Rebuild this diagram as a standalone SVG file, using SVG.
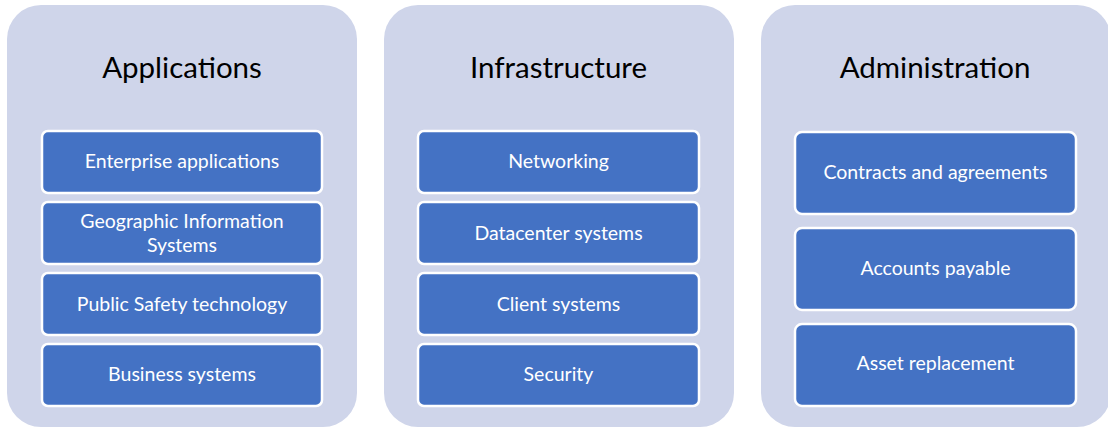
<svg xmlns="http://www.w3.org/2000/svg" width="1108" height="427" viewBox="0 0 1108 427">
<style>
.panel{fill:#CFD5EA;}
.box{fill:#4472C4;stroke:#FFFFFF;stroke-width:2.5;}
.title{font-family:Lato,"Liberation Sans",sans-serif;font-size:29.5px;fill:#000000;text-anchor:middle;}
.item{font-family:Lato,"Liberation Sans",sans-serif;font-size:19.5px;fill:#FFFFFF;text-anchor:middle;}
</style>
<rect width="1108" height="427" fill="#FFFFFF"/>
<g id="applications">
<rect class="panel" x="7" y="5" width="350" height="422" rx="34"/>
<text class="title" x="182" y="78">Applications</text>
<g id="enterprise-applications"><rect class="box" x="42" y="131" width="280" height="62" rx="6"/><text class="item" x="182" y="168">Enterprise applications</text></g>
<g id="gis"><rect class="box" x="42" y="202" width="280" height="62" rx="6"/><text class="item" x="182" y="228">Geographic Information</text><text class="item" x="182" y="252">Systems</text></g>
<g id="public-safety"><rect class="box" x="42" y="273" width="280" height="62" rx="6"/><text class="item" x="182" y="311">Public Safety technology</text></g>
<g id="business-systems"><rect class="box" x="42" y="344" width="280" height="62" rx="6"/><text class="item" x="182" y="381">Business systems</text></g>
</g>
<g id="infrastructure">
<rect class="panel" x="384" y="5" width="350" height="422" rx="34"/>
<text class="title" x="558.5" y="78">Infrastructure</text>
<g id="networking"><rect class="box" x="418" y="131" width="281" height="62" rx="6"/><text class="item" x="558.5" y="168">Networking</text></g>
<g id="datacenter-systems"><rect class="box" x="418" y="202" width="281" height="62" rx="6"/><text class="item" x="558.5" y="240">Datacenter systems</text></g>
<g id="client-systems"><rect class="box" x="418" y="273" width="281" height="62" rx="6"/><text class="item" x="558.5" y="311">Client systems</text></g>
<g id="security"><rect class="box" x="418" y="344" width="281" height="62" rx="6"/><text class="item" x="558.5" y="381">Security</text></g>
</g>
<g id="administration">
<rect class="panel" x="761" y="5" width="350" height="422" rx="34"/>
<text class="title" x="935" y="78">Administration</text>
<g id="contracts"><rect class="box" x="795" y="132" width="281" height="82" rx="7"/><text class="item" x="935.5" y="179">Contracts and agreements</text></g>
<g id="accounts-payable"><rect class="box" x="795" y="228" width="281" height="82" rx="7"/><text class="item" x="935.5" y="275">Accounts payable</text></g>
<g id="asset-replacement"><rect class="box" x="795" y="324" width="281" height="82" rx="7"/><text class="item" x="935.5" y="370">Asset replacement</text></g>
</g>
<g id="connectors"></g>
</svg>
